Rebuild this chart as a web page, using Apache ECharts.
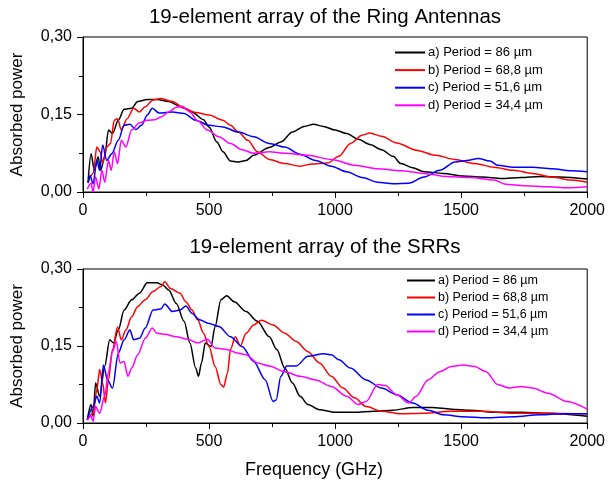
<!DOCTYPE html>
<html>
<head>
<meta charset="utf-8">
<script src="https://cdn.jsdelivr.net/npm/echarts@6/dist/echarts.min.js"></script>
<style>
  html, body { margin: 0; padding: 0; background: #fff; }
  #chart { width: 608px; height: 483px; }
</style>
</head>
<body>
<div id="chart"></div>
<script>
// legend labels, shared by both panels
var periods = ['a) Period = 86 \u00b5m', 'b) Period = 68,8 \u00b5m', 'c) Period = 51,6 \u00b5m', 'd) Period = 34,4 \u00b5m'];
var colors = ['#000000', '#ff0000', '#0000ff', '#ff00ff'];
var titles = ['19-element array of the Ring Antennas', '19-element array of the SRRs'];
var freqTicks = [0, 500, 1000, 1500, 2000];
var powerTicks = [0, 0.15, 0.30];

// [frequency GHz, absorbed power] - ring antennas
var ringA = [[20,0.019],[32,0.074],[45,0.042],[60,0.068],[70,0.042],[86,0.068],[101,0.12],[117,0.113],[140,0.139],[163,0.16],[193,0.162],[217,0.175],[255,0.179],[293,0.179],[340,0.175],[385,0.166],[432,0.155],[478,0.14],[500,0.126],[531,0.097],[555,0.078],[585,0.06],[616,0.058],[647,0.061],[677,0.071],[739,0.086],[785,0.097],[831,0.116],[877,0.127],[915,0.131],[954,0.127],[1000,0.12],[1046,0.113],[1092,0.102],[1138,0.092],[1184,0.082],[1230,0.069],[1261,0.055],[1307,0.047],[1353,0.039],[1430,0.036],[1507,0.031],[1584,0.029],[1660,0.026],[1737,0.028],[1814,0.03],[1891,0.029],[2000,0.025]];
var ringB = [[20,0.019],[40,0.036],[55,0.087],[68,0.078],[78,0.055],[94,0.087],[109,0.094],[124,0.139],[137,0.142],[152,0.12],[175,0.142],[201,0.162],[224,0.155],[247,0.165],[278,0.178],[309,0.181],[355,0.175],[401,0.162],[447,0.154],[500,0.149],[555,0.139],[585,0.129],[616,0.116],[654,0.1],[692,0.078],[739,0.063],[800,0.055],[861,0.05],[907,0.054],[969,0.056],[1015,0.069],[1061,0.094],[1107,0.11],[1138,0.114],[1184,0.108],[1245,0.095],[1322,0.081],[1399,0.071],[1476,0.063],[1553,0.055],[1630,0.048],[1706,0.042],[1783,0.036],[1860,0.029],[1935,0.023],[2000,0.019]];
var ringC = [[20,0.017],[28,0.032],[40,0.016],[55,0.061],[66,0.042],[78,0.091],[94,0.061],[114,0.074],[140,0.1],[163,0.129],[186,0.131],[209,0.121],[232,0.129],[255,0.149],[275,0.162],[301,0.153],[355,0.155],[401,0.152],[447,0.139],[500,0.129],[555,0.126],[616,0.116],[677,0.107],[739,0.094],[800,0.087],[861,0.073],[923,0.061],[985,0.05],[1046,0.039],[1107,0.028],[1169,0.019],[1230,0.016],[1292,0.017],[1353,0.029],[1415,0.042],[1476,0.058],[1522,0.061],[1568,0.065],[1614,0.06],[1645,0.052],[1706,0.048],[1783,0.048],[1860,0.045],[1935,0.041],[2000,0.039]];
var ringD = [[17,0.006],[32,0.017],[40,0.0],[50,0.029],[63,0.006],[75,0.042],[86,0.019],[101,0.061],[112,0.042],[124,0.078],[137,0.055],[152,0.1],[170,0.087],[193,0.12],[224,0.134],[255,0.139],[286,0.14],[309,0.145],[340,0.155],[370,0.164],[393,0.166],[424,0.155],[455,0.138],[493,0.12],[539,0.107],[585,0.094],[631,0.082],[677,0.075],[739,0.078],[800,0.075],[892,0.071],[985,0.063],[1077,0.052],[1169,0.045],[1261,0.041],[1353,0.036],[1445,0.03],[1537,0.028],[1630,0.023],[1676,0.015],[1752,0.012],[1845,0.01],[1920,0.008],[2000,0.01]];

// SRRs
var srrA = [[17,0.006],[32,0.036],[40,0.013],[50,0.078],[66,0.052],[86,0.11],[106,0.162],[121,0.156],[140,0.181],[163,0.22],[193,0.24],[224,0.253],[255,0.273],[293,0.273],[316,0.269],[340,0.259],[370,0.233],[401,0.198],[424,0.156],[447,0.107],[458,0.091],[470,0.117],[485,0.156],[508,0.149],[524,0.188],[547,0.24],[570,0.248],[600,0.236],[647,0.217],[692,0.198],[739,0.168],[769,0.143],[800,0.107],[831,0.078],[861,0.052],[892,0.036],[938,0.026],[1000,0.021],[1077,0.021],[1153,0.023],[1230,0.025],[1307,0.03],[1384,0.03],[1461,0.027],[1537,0.025],[1630,0.021],[1737,0.021],[1845,0.019],[2000,0.013]];
var srrB = [[17,0.006],[40,0.019],[55,0.065],[66,0.104],[78,0.078],[89,0.039],[101,0.084],[117,0.143],[137,0.187],[152,0.162],[170,0.181],[193,0.207],[217,0.227],[247,0.24],[278,0.256],[309,0.266],[324,0.275],[347,0.262],[385,0.253],[408,0.236],[432,0.22],[455,0.201],[478,0.175],[500,0.149],[524,0.11],[547,0.075],[558,0.07],[573,0.097],[585,0.143],[604,0.168],[624,0.15],[647,0.175],[677,0.191],[708,0.2],[754,0.191],[800,0.175],[846,0.159],[892,0.139],[938,0.117],[985,0.091],[1031,0.068],[1077,0.049],[1123,0.032],[1184,0.023],[1261,0.018],[1353,0.019],[1461,0.023],[1584,0.023],[1706,0.019],[1814,0.019],[2000,0.018]];
var srrC = [[17,0.006],[40,0.032],[55,0.052],[66,0.039],[81,0.113],[97,0.084],[117,0.068],[140,0.136],[163,0.162],[186,0.181],[201,0.162],[224,0.165],[247,0.185],[278,0.22],[309,0.222],[324,0.232],[355,0.217],[385,0.22],[408,0.228],[432,0.214],[462,0.201],[500,0.194],[539,0.188],[585,0.168],[631,0.149],[677,0.12],[723,0.084],[754,0.042],[766,0.045],[785,0.091],[808,0.111],[846,0.111],[892,0.13],[954,0.135],[985,0.133],[1015,0.123],[1061,0.107],[1123,0.084],[1184,0.068],[1245,0.055],[1307,0.039],[1368,0.025],[1430,0.016],[1507,0.012],[1599,0.01],[1706,0.012],[1814,0.016],[1906,0.018],[2000,0.018]];
var srrD = [[17,0.006],[32,0.013],[40,0.003],[50,0.032],[66,0.019],[86,0.052],[101,0.1],[117,0.139],[132,0.159],[147,0.117],[163,0.12],[178,0.091],[193,0.107],[217,0.133],[247,0.165],[275,0.185],[293,0.175],[324,0.173],[370,0.168],[416,0.163],[455,0.156],[493,0.163],[524,0.146],[570,0.143],[616,0.136],[647,0.133],[692,0.117],[739,0.111],[800,0.1],[861,0.091],[923,0.084],[985,0.071],[1046,0.052],[1092,0.036],[1123,0.042],[1169,0.075],[1199,0.073],[1245,0.055],[1292,0.039],[1322,0.052],[1368,0.084],[1415,0.1],[1461,0.11],[1507,0.113],[1553,0.11],[1599,0.1],[1645,0.075],[1691,0.068],[1737,0.071],[1783,0.068],[1845,0.058],[1920,0.042],[2000,0.027]];

var panels = [[ringA, ringB, ringC, ringD], [srrA, srrB, srrC, srrD]];
var font = 'Arial, "Liberation Sans", sans-serif';

function fmtPower(v) {
    return v.toFixed(2).replace('.', ',');
}
function fmtFreq(v) {
    return String(Math.round(v));
}

var chart = echarts.init(document.getElementById('chart'));

var gridTops = [37, 269];
var gridHeights = [155, 154];

var option = {
    animation: false,
    backgroundColor: '#fff',
    title: titles.map(function (t, i) {
        return {
            text: t,
            left: 320,
            top: i === 0 ? 2 : 232,
            textAlign: 'center',
            textStyle: { fontFamily: font, fontSize: 20.5, fontWeight: 'normal', color: '#000' }
        };
    }),
    legend: [0, 1].map(function (i) {
        return {
            data: periods.map(function (p) { return p + (i === 0 ? '' : ' '); }),
            orient: 'vertical',
            left: i === 0 ? 395 : 407,
            top: i === 0 ? 46 : 274,
            icon: 'rect',
            itemWidth: i === 0 ? 30 : 28,
            itemHeight: 2,
            itemGap: i === 0 ? 4.6 : 4,
            padding: 0,
            textStyle: { fontFamily: font, fontSize: i === 0 ? 13 : 12.5, color: '#000', padding: [0, 0, 0, -2] }
        };
    }),
    grid: [0, 1].map(function (i) {
        return {
            left: 83, right: 19, top: gridTops[i], height: gridHeights[i],
            show: true, borderColor: '#000', borderWidth: 1, backgroundColor: 'transparent'
        };
    }),
    xAxis: [0, 1].map(function (i) {
        return {
            type: 'value', gridIndex: i,
            min: freqTicks[0], max: freqTicks[freqTicks.length - 1], interval: 500,
            name: i === 1 ? 'Frequency (GHz)' : '',
            nameLocation: 'middle', nameGap: 38,
            nameTextStyle: { fontFamily: font, fontSize: 18, color: '#000', padding: [0, 42, 0, 0] },
            axisLine: { lineStyle: { color: '#000', width: 1 } },
            axisTick: { length: 6, lineStyle: { color: '#000' } },
            minorTick: { show: true, splitNumber: 2, length: 4, lineStyle: { color: '#000' } },
            splitLine: { show: false },
            axisLabel: { margin: 11, fontFamily: font, fontSize: 16, color: '#000', showMaxLabel: true, formatter: fmtFreq }
        };
    }),
    yAxis: [0, 1].map(function (i) {
        return {
            type: 'value', gridIndex: i,
            min: powerTicks[0], max: powerTicks[powerTicks.length - 1], interval: 0.15,
            name: 'Absorbed power', nameLocation: 'middle', nameGap: 57,
            nameTextStyle: { fontFamily: font, fontSize: 17, color: '#000' },
            axisLine: { lineStyle: { color: '#000', width: 1 } },
            axisTick: { length: 6, lineStyle: { color: '#000' } },
            minorTick: { show: true, splitNumber: 2, length: 4, lineStyle: { color: '#000' } },
            splitLine: { show: false },
            axisLabel: { margin: 11, fontFamily: font, fontSize: 16, color: '#000', formatter: fmtPower }
        };
    }),
    series: []
};

panels.forEach(function (sets, i) {
    sets.forEach(function (d, k) {
        option.series.push({
            name: periods[k] + (i === 0 ? '' : ' '),
            type: 'line',
            xAxisIndex: i, yAxisIndex: i,
            data: d,
            showSymbol: false,
            smooth: 0.3,
            smoothMonotone: 'x',
            color: colors[k],
            lineStyle: { width: 1.5, color: colors[k] }
        });
    });
});

chart.setOption(option);
</script>
</body>
</html>
